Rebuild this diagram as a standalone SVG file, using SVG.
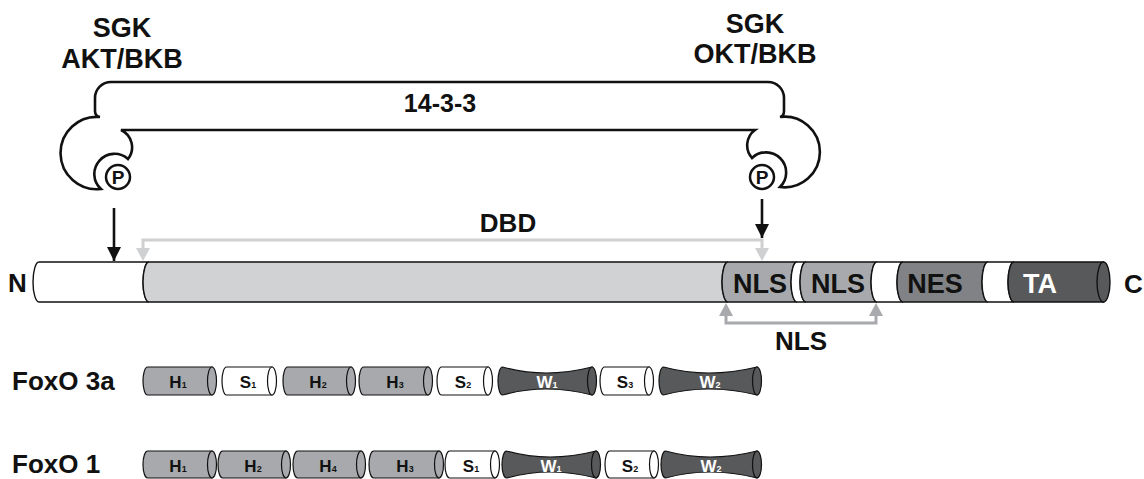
<svg xmlns="http://www.w3.org/2000/svg" width="1144" height="479" viewBox="0 0 1144 479">
<defs>
<style>
text{font-family:"Liberation Sans",Arial,sans-serif;font-weight:bold;fill:#111;}
.big{font-size:26px;}
.lbl{font-size:27px;text-anchor:middle;}
.seg{stroke:#111;stroke-width:1.4;}
.sm{stroke:#111;stroke-width:1.2;}
.w{fill:#fff;}
.g1{fill:#d1d2d4;}
.g2{fill:#a7a9ac;}
.g3{fill:#808285;}
.g4{fill:#58595b;}
.st{font-size:17px;text-anchor:middle;}
.sub{font-size:9px;}
.wt{fill:#fff;}
</style>
<marker id="ab" viewBox="0 0 10 10" refX="10" refY="5" markerWidth="5.4" markerHeight="5.4" orient="auto" markerUnits="strokeWidth"><path d="M0 0 L10 5 L0 10 Z" fill="#111"/></marker>
</defs>

<g id="kinase-left">
<text class="lbl" x="122" y="37">SGK</text>
<text class="lbl" x="122" y="68">AKT/BKB</text>
</g>
<g id="kinase-right">
<text class="lbl" x="755" y="33">SGK</text>
<text class="lbl" x="755" y="63">OKT/BKB</text>
</g>

<g id="bracket-14-3-3">
<path d="M 100 117 A 36.2 36.2 0 1 0 101 189 A 20 20 0 0 1 128 159 A 19 19 0 0 0 121 130 L 755 130 A 19 19 0 0 0 752 158 A 20 20 0 0 1 780 187 A 35.3 35.3 0 1 0 780 117 Q 784 116 784 111 L 784 98 A 16 16 0 0 0 768 82 L 111 82 A 16 16 0 0 0 95 98 L 95 111 Q 95 116 100 117 Z" fill="none" stroke="#111" stroke-width="2.6"/>
<text class="lbl" x="440" y="112" style="font-size:25px">14-3-3</text>
</g>
<g id="p-left">
<circle cx="118" cy="177" r="12" fill="#fff" stroke="#111" stroke-width="2.5"/>
<text x="118" y="184" style="font-size:19px;text-anchor:middle">P</text>
</g>
<g id="p-right">
<circle cx="762" cy="177" r="12" fill="#fff" stroke="#111" stroke-width="2.5"/>
<text x="762" y="184" style="font-size:19px;text-anchor:middle">P</text>
</g>

<g id="protein">
<text class="big" x="8" y="292">N</text>
<path class="seg w" d="M39 262 L149 262 A6 20 0 0 0 149 302 L39 302 A6 20 0 0 1 39 262 Z"/>
<path class="seg g1" d="M149 262 L728 262 A6 20 0 0 0 728 302 L149 302 A6 20 0 0 1 149 262 Z"/>
<path class="seg g2" d="M728 262 L797 262 A6 20 0 0 0 797 302 L728 302 A6 20 0 0 1 728 262 Z"/>
<path class="seg w" d="M797 262 L806 262 A6 20 0 0 0 806 302 L797 302 A6 20 0 0 1 797 262 Z"/>
<path class="seg g2" d="M806 262 L877 262 A6 20 0 0 0 877 302 L806 302 A6 20 0 0 1 806 262 Z"/>
<path class="seg w" d="M877 262 L903 262 A6 20 0 0 0 903 302 L877 302 A6 20 0 0 1 877 262 Z"/>
<path class="seg g3" d="M903 262 L988 262 A6 20 0 0 0 988 302 L903 302 A6 20 0 0 1 903 262 Z"/>
<path class="seg w" d="M988 262 L1014 262 A6 20 0 0 0 1014 302 L988 302 A6 20 0 0 1 988 262 Z"/>
<path class="seg g4" d="M1014 262 L1103.5 262 L1103.5 302 L1014 302 A6 20 0 0 1 1014 262 Z"/>
<ellipse class="seg g4" cx="1103.5" cy="282" rx="6.5" ry="20"/>
<text class="lbl" x="760" y="293">NLS</text>
<text class="lbl" x="838" y="293">NLS</text>
<text class="lbl" x="935" y="293">NES</text>
<text class="lbl wt" x="1040" y="293">TA</text>
<text class="big" x="1124" y="293">C</text>
</g>

<g id="connectors">
<line x1="114" y1="208" x2="114" y2="261" stroke="#111" stroke-width="2.6" marker-end="url(#ab)"/>
<line x1="762" y1="199" x2="762" y2="238" stroke="#111" stroke-width="2.6" marker-end="url(#ab)"/>
<path d="M143 249 L143 240 L762 240 L762 249" fill="none" stroke="#cfd0d2" stroke-width="3"/>
<path d="M136 248 L150 248 L143 261 Z" fill="#cfd0d2"/>
<path d="M755 248 L769 248 L762 261 Z" fill="#cfd0d2"/>
<path d="M726 315 L726 323 L876 323 L876 315" fill="none" stroke="#a7a9ac" stroke-width="3"/>
<path d="M719 316 L733 316 L726 303 Z" fill="#a7a9ac"/>
<path d="M869 316 L883 316 L876 303 Z" fill="#a7a9ac"/>
</g>
<text class="lbl" x="508" y="232" style="font-size:26px">DBD</text>
<text class="lbl" x="801" y="350" style="font-size:26px">NLS</text>

<g id="foxo3a">
<text class="big" x="12" y="390">FoxO 3a</text>
<path class="sm g2" d="M147.5 367 L212 367 L212 395 L147.5 395 A4.5 14 0 0 1 147.5 367 Z"/><ellipse class="sm g2" cx="212" cy="381" rx="4.5" ry="14"/>
<text class="st" x="178" y="388">H<tspan class="sub">1</tspan></text>
<path class="sm w" d="M226.5 367 L272 367 L272 395 L226.5 395 A4.5 14 0 0 1 226.5 367 Z"/><ellipse class="sm w" cx="272" cy="381" rx="4.5" ry="14"/>
<text class="st" x="248" y="388">S<tspan class="sub">1</tspan></text>
<path class="sm g2" d="M287.5 367 L351 367 L351 395 L287.5 395 A4.5 14 0 0 1 287.5 367 Z"/><ellipse class="sm g2" cx="351" cy="381" rx="4.5" ry="14"/>
<text class="st" x="318" y="388">H<tspan class="sub">2</tspan></text>
<path class="sm g2" d="M363.5 367 L428 367 L428 395 L363.5 395 A4.5 14 0 0 1 363.5 367 Z"/><ellipse class="sm g2" cx="428" cy="381" rx="4.5" ry="14"/>
<text class="st" x="395" y="388">H<tspan class="sub">3</tspan></text>
<path class="sm w" d="M441.5 367 L488 367 L488 395 L441.5 395 A4.5 14 0 0 1 441.5 367 Z"/><ellipse class="sm w" cx="488" cy="381" rx="4.5" ry="14"/>
<text class="st" x="463" y="388">S<tspan class="sub">2</tspan></text>
<path class="sm g4" d="M502.5 367 Q545 379 592 367 L592 395 Q545 383 502.5 395 A4.5 14 0 0 1 502.5 367 Z"/><ellipse class="sm g4" cx="592" cy="381" rx="4.5" ry="14"/>
<text class="st wt" x="547" y="388">W<tspan class="sub">1</tspan></text>
<path class="sm w" d="M604.5 367 L649 367 L649 395 L604.5 395 A4.5 14 0 0 1 604.5 367 Z"/><ellipse class="sm w" cx="649" cy="381" rx="4.5" ry="14"/>
<text class="st" x="625" y="388">S<tspan class="sub">3</tspan></text>
<path class="sm g4" d="M663.5 367 Q708 379 757 367 L757 395 Q708 383 663.5 395 A4.5 14 0 0 1 663.5 367 Z"/><ellipse class="sm g4" cx="757" cy="381" rx="4.5" ry="14"/>
<text class="st wt" x="710" y="388">W<tspan class="sub">2</tspan></text>
</g>

<g id="foxo1">
<text class="big" x="12" y="473">FoxO 1</text>
<path class="sm g2" d="M147.5 451 L212 451 L212 478 L147.5 478 A4.5 13.5 0 0 1 147.5 451 Z"/><ellipse class="sm g2" cx="212" cy="464.5" rx="4.5" ry="13.5"/>
<text class="st" x="178" y="472">H<tspan class="sub">1</tspan></text>
<path class="sm g2" d="M222.5 451 L286 451 L286 478 L222.5 478 A4.5 13.5 0 0 1 222.5 451 Z"/><ellipse class="sm g2" cx="286" cy="464.5" rx="4.5" ry="13.5"/>
<text class="st" x="253" y="472">H<tspan class="sub">2</tspan></text>
<path class="sm g2" d="M297.5 451 L361 451 L361 478 L297.5 478 A4.5 13.5 0 0 1 297.5 451 Z"/><ellipse class="sm g2" cx="361" cy="464.5" rx="4.5" ry="13.5"/>
<text class="st" x="328" y="472">H<tspan class="sub">4</tspan></text>
<path class="sm g2" d="M373.5 451 L439 451 L439 478 L373.5 478 A4.5 13.5 0 0 1 373.5 451 Z"/><ellipse class="sm g2" cx="439" cy="464.5" rx="4.5" ry="13.5"/>
<text class="st" x="405" y="472">H<tspan class="sub">3</tspan></text>
<path class="sm w" d="M449.5 451 L495 451 L495 478 L449.5 478 A4.5 13.5 0 0 1 449.5 451 Z"/><ellipse class="sm w" cx="495" cy="464.5" rx="4.5" ry="13.5"/>
<text class="st" x="471" y="472">S<tspan class="sub">1</tspan></text>
<path class="sm g4" d="M506.5 451 Q549 463 596 451 L596 478 Q549 466 506.5 478 A4.5 13.5 0 0 1 506.5 451 Z"/><ellipse class="sm g4" cx="596" cy="464.5" rx="4.5" ry="13.5"/>
<text class="st wt" x="551" y="472">W<tspan class="sub">1</tspan></text>
<path class="sm w" d="M609.5 451 L654 451 L654 478 L609.5 478 A4.5 13.5 0 0 1 609.5 451 Z"/><ellipse class="sm w" cx="654" cy="464.5" rx="4.5" ry="13.5"/>
<text class="st" x="630" y="472">S<tspan class="sub">2</tspan></text>
<path class="sm g4" d="M665.5 451 Q709 463 757 451 L757 478 Q709 466 665.5 478 A4.5 13.5 0 0 1 665.5 451 Z"/><ellipse class="sm g4" cx="757" cy="464.5" rx="4.5" ry="13.5"/>
<text class="st wt" x="711" y="472">W<tspan class="sub">2</tspan></text>
</g>
</svg>
